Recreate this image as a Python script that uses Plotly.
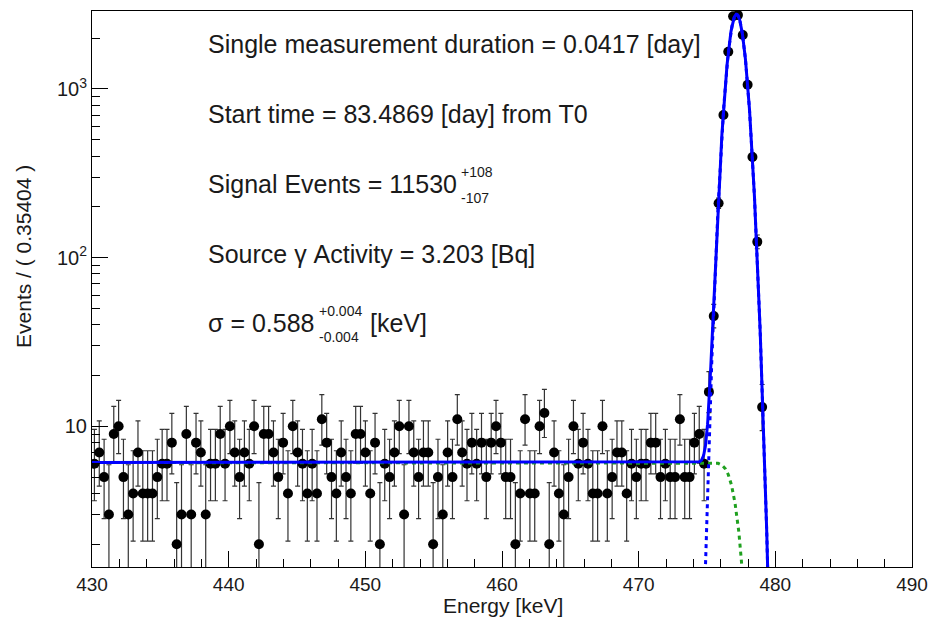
import math
import plotly.graph_objects as go

# ---------------- data ----------------
BIN_LO = 430.0
BIN_WIDTH = 0.35404
counts = [
    6, 7, 5, 3, 9, 10, 5, 3, 4, 7, 4, 4, 4, 5, 6, 6, 8, 2, 3, 9,
    3, 8, 7, 3, 6, 6, 9, 6, 10, 7, 5, 7, 6, 10, 2, 9, 9, 7, 5, 8,
    4, 10, 7, 6, 4, 6, 4, 11, 8, 5, 4, 7, 5, 4, 9, 9, 7, 4, 8, 2,
    6, 5, 7, 10, 3, 10, 7, 5, 7, 7, 2, 5, 3, 7, 5, 11, 7, 6, 8, 6,
    8, 5, 8, 10, 8, 5, 5, 2, 4, 11, 4, 4, 10, 12, 2, 7, 4, 3, 5, 10,
    6, 8, 6, 4, 4, 10, 4, 5, 7, 7, 4, 6, 5, 6, 6, 8, 8, 5, 6, 5,
    5, 11, 5, 5, 8, 9, 6, 16, 45, 210, 700, 1660, 2700, 2740, 2090, 1060, 395, 124, 13,
]

# fit model parameters
BKG_LEVEL = 6.1
PEAK_MEAN = 477.16
PEAK_SIGMA = 0.588
SIGNAL_EVENTS = 11530
FIT_LO, FIT_HI = 430.0, 480.0

x_tick_vals = [430, 440, 450, 460, 470, 480, 490]
y_major_vals = [10, 100, 1000]
y_major_text = ["10", "10<sup>2</sup>", "10<sup>3</sup>"]

text_lines = [
    "Single measurement duration = 0.0417 [day]",
    "Start time = 83.4869 [day] from T0",
    "Signal Events = 11530",
    "Source \u03b3 Activity = 3.203 [Bq]",
    "\u03c3 = 0.588",
]

# ---------------- helpers ----------------
def pois_cdf(k, mu):
    if k < 0:
        return 0.0
    s = 0.0
    lm = math.log(mu)
    for j in range(k + 1):
        s += math.exp(j * lm - mu - math.lgamma(j + 1))
    return min(s, 1.0)

def garwood(n, alpha=0.3173):
    a2 = alpha / 2
    lo, hi = n + 1e-9, n + 10 * math.sqrt(n + 1) + 10
    for _ in range(60):
        mid = 0.5 * (lo + hi)
        if pois_cdf(n, mid) > a2:
            lo = mid
        else:
            hi = mid
    up = 0.5 * (lo + hi)
    if n == 0:
        return 0.0, up
    lo, hi = 1e-9, n
    for _ in range(60):
        mid = 0.5 * (lo + hi)
        if 1 - pois_cdf(n - 1, mid) < a2:
            lo = mid
        else:
            hi = mid
    return 0.5 * (lo + hi), up

xc = [BIN_LO + BIN_WIDTH * (i + 0.5) for i in range(len(counts))]
e_plus, e_minus = [], []
for n in counts:
    l, u = garwood(n)
    e_plus.append(u - n)
    e_minus.append(n - l)

def bkg(x):
    return BKG_LEVEL * 0.5 * math.erfc((x - PEAK_MEAN) / (math.sqrt(2) * PEAK_SIGMA))

def sig(x):
    amp = SIGNAL_EVENTS * BIN_WIDTH / (PEAK_SIGMA * math.sqrt(2 * math.pi))
    return amp * math.exp(-0.5 * ((x - PEAK_MEAN) / PEAK_SIGMA) ** 2)

NS = 2500
xs = [FIT_LO + (FIT_HI - FIT_LO) * k / NS for k in range(NS + 1)]
yb = [max(bkg(x), 1e-3) for x in xs]
ysig = [max(sig(x), 1e-3) for x in xs]
ytot = [max(bkg(x) + sig(x), 1e-3) for x in xs]

# ---------------- geometry ----------------
L, R, T, B = 92, 917, 10, 567
W, H = 938, 619

def px(x):
    return (x - L) / (R - L)

def py(y):
    return (B - y) / (B - T)

FONT = "Liberation Sans, Arial, Helvetica, sans-serif"
TXT = "#1a1a1a"

fig = go.Figure()
fig.add_trace(go.Scatter(
    x=xc, y=counts, mode="markers",
    marker=dict(color="black", size=10),
    error_y=dict(type="data", symmetric=False, array=e_plus, arrayminus=e_minus,
                 color="#333333", thickness=1.2, width=2.5),
    showlegend=False, cliponaxis=True,
))
fig.add_trace(go.Scatter(x=xs, y=yb, mode="lines",
                         line=dict(color="#1fa01f", width=3, dash="4px,4px"),
                         showlegend=False))
fig.add_trace(go.Scatter(x=xs, y=ysig, mode="lines",
                         line=dict(color="#0000ff", width=3, dash="4px,4px"),
                         showlegend=False))
fig.add_trace(go.Scatter(x=xs, y=ytot, mode="lines",
                         line=dict(color="#0000ff", width=3),
                         showlegend=False))

y_minor = []
for dec in [1, 10, 100, 1000]:
    for m in range(2, 10):
        y_minor.append(m * dec)

fig.update_layout(
    width=W, height=H,
    margin=dict(l=L, r=W - R, t=T, b=H - B),
    paper_bgcolor="white", plot_bgcolor="white",
    font=dict(family=FONT, color=TXT),
    xaxis=dict(
        range=[430, 490], tickmode="array", tickvals=x_tick_vals,
        ticks="inside", ticklen=16, tickwidth=1, tickcolor="black",
        showline=True, linecolor="black", linewidth=1, mirror=True,
        showgrid=False, zeroline=False,
        tickfont=dict(size=19, family=FONT, color=TXT),
        minor=dict(ticks="inside", ticklen=8, dtick=2, tickcolor="black", showgrid=False),
    ),
    yaxis=dict(
        type="log", range=[0.166, 3.462], tickmode="array",
        tickvals=y_major_vals, ticktext=y_major_text,
        ticks="inside", ticklen=16, tickwidth=1, tickcolor="black",
        showline=True, linecolor="black", linewidth=1, mirror=True,
        showgrid=False, zeroline=False,
        tickfont=dict(size=20, family=FONT, color=TXT),
        minor=dict(ticks="inside", ticklen=8, tickmode="array", tickvals=y_minor,
                   tickcolor="black", showgrid=False),
    ),
)

MAIN = dict(size=25, family=FONT, color=TXT)
SMALL = dict(size=14, family=FONT, color=TXT)
ann = []
ys = [43, 113, 183, 253, 323]
for t, yy in zip(text_lines, ys):
    ann.append(dict(x=px(207), y=py(yy), text=t, font=MAIN))
ann += [
    dict(x=px(461), y=py(171), text="+108", font=SMALL),
    dict(x=px(461), y=py(197), text="-107", font=SMALL),
    dict(x=px(318), y=py(311), text="+0.004", font=SMALL),
    dict(x=px(318), y=py(337), text="-0.004", font=SMALL),
    dict(x=px(370), y=py(323), text="[keV]", font=MAIN),
]
for a in ann:
    a.update(xref="paper", yref="paper", showarrow=False, xanchor="left", yanchor="middle")

ann.append(dict(x=px(506), y=py(606), xref="paper", yref="paper", text="Energy [keV]",
                showarrow=False, xanchor="center", yanchor="middle",
                font=dict(size=21, family=FONT, color=TXT)))
ann.append(dict(x=px(23), y=py(256), xref="paper", yref="paper", text="Events / ( 0.35404 )",
                showarrow=False, xanchor="center", yanchor="middle", textangle=-90,
                font=dict(size=21, family=FONT, color=TXT)))
fig.update_layout(annotations=ann)

fig.write_html("out.html")
